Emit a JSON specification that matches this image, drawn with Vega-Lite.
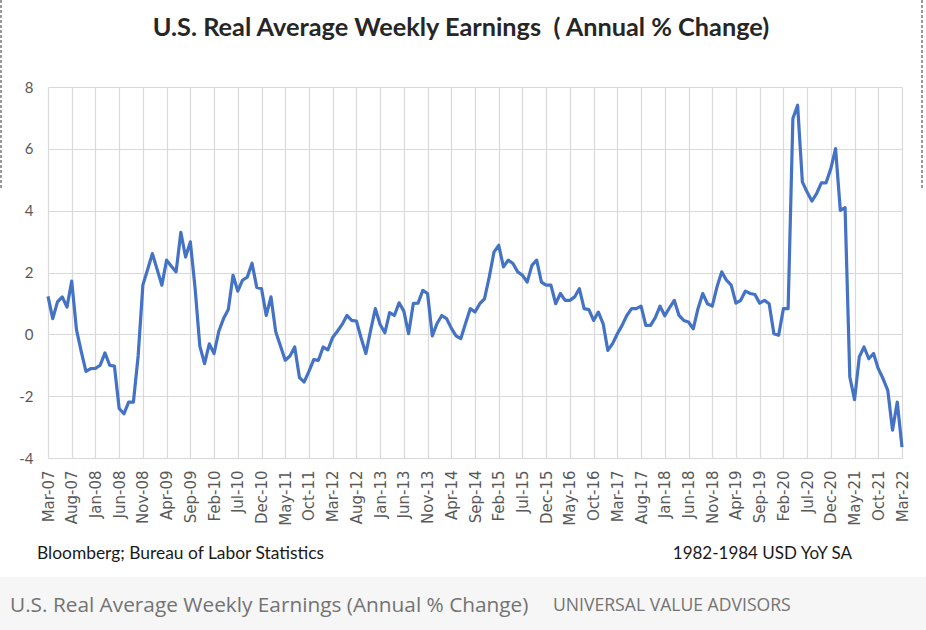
{
  "$schema": "https://vega.github.io/schema/vega-lite/v6.json",
  "width": 854,
  "height": 371,
  "autosize": {"type": "none"},
  "padding": {"left": 48, "top": 87, "right": 24, "bottom": 172},
  "background": "white",
  "config": {"view": {"stroke": null}},
  "datasets": {
    "earn": [
      {"m":"Mar-07","v":1.23},{"m":"Apr-07","v":0.51},{"m":"May-07","v":1.05},{"m":"Jun-07","v":1.21},{"m":"Jul-07","v":0.88},{"m":"Aug-07","v":1.72},{"m":"Sep-07","v":0.15},{"m":"Oct-07","v":-0.55},{"m":"Nov-07","v":-1.2},{"m":"Dec-07","v":-1.11},
      {"m":"Jan-08","v":-1.1},{"m":"Feb-08","v":-1.0},{"m":"Mar-08","v":-0.6},{"m":"Apr-08","v":-1.0},{"m":"May-08","v":-1.03},{"m":"Jun-08","v":-2.4},{"m":"Jul-08","v":-2.57},{"m":"Aug-08","v":-2.19},{"m":"Sep-08","v":-2.19},{"m":"Oct-08","v":-0.7},{"m":"Nov-08","v":1.6},{"m":"Dec-08","v":2.1},
      {"m":"Jan-09","v":2.61},{"m":"Feb-09","v":2.1},{"m":"Mar-09","v":1.59},{"m":"Apr-09","v":2.4},{"m":"May-09","v":2.2},{"m":"Jun-09","v":2.02},{"m":"Jul-09","v":3.3},{"m":"Aug-09","v":2.5},{"m":"Sep-09","v":2.99},{"m":"Oct-09","v":1.5},{"m":"Nov-09","v":-0.38},{"m":"Dec-09","v":-0.95},
      {"m":"Jan-10","v":-0.31},{"m":"Feb-10","v":-0.62},{"m":"Mar-10","v":0.1},{"m":"Apr-10","v":0.51},{"m":"May-10","v":0.8},{"m":"Jun-10","v":1.91},{"m":"Jul-10","v":1.4},{"m":"Aug-10","v":1.75},{"m":"Sep-10","v":1.85},{"m":"Oct-10","v":2.3},{"m":"Nov-10","v":1.52},{"m":"Dec-10","v":1.48},
      {"m":"Jan-11","v":0.61},{"m":"Feb-11","v":1.21},{"m":"Mar-11","v":0.08},{"m":"Apr-11","v":-0.38},{"m":"May-11","v":-0.84},{"m":"Jun-11","v":-0.7},{"m":"Jul-11","v":-0.41},{"m":"Aug-11","v":-1.4},{"m":"Sep-11","v":-1.54},{"m":"Oct-11","v":-1.2},{"m":"Nov-11","v":-0.82},{"m":"Dec-11","v":-0.84},
      {"m":"Jan-12","v":-0.41},{"m":"Feb-12","v":-0.5},{"m":"Mar-12","v":-0.1},{"m":"Apr-12","v":0.1},{"m":"May-12","v":0.32},{"m":"Jun-12","v":0.61},{"m":"Jul-12","v":0.45},{"m":"Aug-12","v":0.43},{"m":"Sep-12","v":-0.12},{"m":"Oct-12","v":-0.62},{"m":"Nov-12","v":0.13},{"m":"Dec-12","v":0.83},
      {"m":"Jan-13","v":0.32},{"m":"Feb-13","v":0.05},{"m":"Mar-13","v":0.7},{"m":"Apr-13","v":0.61},{"m":"May-13","v":1.02},{"m":"Jun-13","v":0.75},{"m":"Jul-13","v":0.02},{"m":"Aug-13","v":1.0},{"m":"Sep-13","v":1.01},{"m":"Oct-13","v":1.42},{"m":"Nov-13","v":1.32},{"m":"Dec-13","v":-0.05},
      {"m":"Jan-14","v":0.35},{"m":"Feb-14","v":0.61},{"m":"Mar-14","v":0.51},{"m":"Apr-14","v":0.2},{"m":"May-14","v":-0.05},{"m":"Jun-14","v":-0.14},{"m":"Jul-14","v":0.35},{"m":"Aug-14","v":0.83},{"m":"Sep-14","v":0.72},{"m":"Oct-14","v":0.99},{"m":"Nov-14","v":1.15},{"m":"Dec-14","v":1.85},
      {"m":"Jan-15","v":2.66},{"m":"Feb-15","v":2.88},{"m":"Mar-15","v":2.18},{"m":"Apr-15","v":2.4},{"m":"May-15","v":2.29},{"m":"Jun-15","v":2.02},{"m":"Jul-15","v":1.91},{"m":"Aug-15","v":1.69},{"m":"Sep-15","v":2.23},{"m":"Oct-15","v":2.4},{"m":"Nov-15","v":1.69},{"m":"Dec-15","v":1.59},
      {"m":"Jan-16","v":1.59},{"m":"Feb-16","v":0.99},{"m":"Mar-16","v":1.32},{"m":"Apr-16","v":1.1},{"m":"May-16","v":1.1},{"m":"Jun-16","v":1.21},{"m":"Jul-16","v":1.48},{"m":"Aug-16","v":0.83},{"m":"Sep-16","v":0.8},{"m":"Oct-16","v":0.45},{"m":"Nov-16","v":0.72},{"m":"Dec-16","v":0.35},
      {"m":"Jan-17","v":-0.52},{"m":"Feb-17","v":-0.3},{"m":"Mar-17","v":0.02},{"m":"Apr-17","v":0.29},{"m":"May-17","v":0.61},{"m":"Jun-17","v":0.83},{"m":"Jul-17","v":0.83},{"m":"Aug-17","v":0.91},{"m":"Sep-17","v":0.29},{"m":"Oct-17","v":0.29},{"m":"Nov-17","v":0.54},{"m":"Dec-17","v":0.91},
      {"m":"Jan-18","v":0.6},{"m":"Feb-18","v":0.86},{"m":"Mar-18","v":1.1},{"m":"Apr-18","v":0.61},{"m":"May-18","v":0.45},{"m":"Jun-18","v":0.4},{"m":"Jul-18","v":0.18},{"m":"Aug-18","v":0.83},{"m":"Sep-18","v":1.32},{"m":"Oct-18","v":0.99},{"m":"Nov-18","v":0.91},{"m":"Dec-18","v":1.53},
      {"m":"Jan-19","v":2.02},{"m":"Feb-19","v":1.75},{"m":"Mar-19","v":1.59},{"m":"Apr-19","v":1.01},{"m":"May-19","v":1.1},{"m":"Jun-19","v":1.4},{"m":"Jul-19","v":1.32},{"m":"Aug-19","v":1.29},{"m":"Sep-19","v":1.01},{"m":"Oct-19","v":1.1},{"m":"Nov-19","v":0.99},{"m":"Dec-19","v":0.02},
      {"m":"Jan-20","v":-0.03},{"m":"Feb-20","v":0.83},{"m":"Mar-20","v":0.83},{"m":"Apr-20","v":6.98},{"m":"May-20","v":7.41},{"m":"Jun-20","v":4.93},{"m":"Jul-20","v":4.6},{"m":"Aug-20","v":4.31},{"m":"Sep-20","v":4.55},{"m":"Oct-20","v":4.9},{"m":"Nov-20","v":4.9},{"m":"Dec-20","v":5.36},
      {"m":"Jan-21","v":6.01},{"m":"Feb-21","v":4.01},{"m":"Mar-21","v":4.1},{"m":"Apr-21","v":-1.38},{"m":"May-21","v":-2.11},{"m":"Jun-21","v":-0.73},{"m":"Jul-21","v":-0.41},{"m":"Aug-21","v":-0.79},{"m":"Sep-21","v":-0.62},{"m":"Oct-21","v":-1.11},{"m":"Nov-21","v":-1.43},{"m":"Dec-21","v":-1.81},
      {"m":"Jan-22","v":-3.1},{"m":"Feb-22","v":-2.19},{"m":"Mar-22","v":-3.65}
    ]
  },
  "layer": [
    {
      "data": {"values": [{}]},
      "mark": {"type": "rect", "color": "#f6f6f6"},
      "encoding": {"x": {"value": -48}, "x2": {"value": 878}, "y": {"value": 490}, "y2": {"value": 543}}
    },
    {
      "data": {"name": "earn"},
      "mark": {"type": "line", "color": "#4472C4", "strokeWidth": 3.2, "strokeJoin": "round"},
      "encoding": {
        "x": {
          "field": "m", "type": "ordinal", "sort": null,
          "scale": {"type": "point", "padding": 0},
          "axis": {
            "values": ["Mar-07","Aug-07","Jan-08","Jun-08","Nov-08","Apr-09","Sep-09","Feb-10","Jul-10","Dec-10","May-11","Oct-11","Mar-12","Aug-12","Jan-13","Jun-13","Nov-13","Apr-14","Sep-14","Feb-15","Jul-15","Dec-15","May-16","Oct-16","Mar-17","Aug-17","Jan-18","Jun-18","Nov-18","Apr-19","Sep-19","Feb-20","Jul-20","Dec-20","May-21","Oct-21","Mar-22"],
            "labelAngle": -90, "labelFont": "DejaVu Sans", "labelFontSize": 15, "labelColor": "#595959",
            "ticks": false, "domain": false, "grid": true, "gridColor": "#d9d9d9", "gridWidth": 1.2,
            "labelPadding": 12, "title": null
          }
        },
        "y": {
          "field": "v", "type": "quantitative",
          "scale": {"domain": [-4, 8], "nice": false, "zero": false},
          "axis": {
            "values": [-4, -2, 0, 2, 4, 6, 8], "ticks": false, "domain": false,
            "labelExpr": "datum.value + ''",
            "grid": true, "gridColor": "#d9d9d9", "gridWidth": 1.2,
            "labelFont": "Lato", "labelFontSize": 15, "labelColor": "#595959", "labelPadding": 15, "title": null
          }
        }
      }
    },
    {
      "data": {"values": [{}]},
      "mark": {"type": "text", "align": "center", "baseline": "alphabetic", "font": "Lato", "fontWeight": "bold", "fontSize": 25.3, "color": "#262626"},
      "encoding": {"x": {"value": 413}, "y": {"value": -51}, "text": {"value": "U.S. Real Average Weekly Earnings \u00a0( Annual % Change)"}}
    },
    {
      "data": {"values": [{}]},
      "mark": {"type": "text", "align": "left", "baseline": "alphabetic", "font": "Lato", "fontSize": 17.4, "color": "#1a1a1a"},
      "encoding": {"x": {"value": -11}, "y": {"value": 472}, "text": {"value": "Bloomberg; Bureau of Labor Statistics"}}
    },
    {
      "data": {"values": [{}]},
      "mark": {"type": "text", "align": "right", "baseline": "alphabetic", "font": "Lato", "fontSize": 17, "color": "#1a1a1a"},
      "encoding": {"x": {"value": 804}, "y": {"value": 472}, "text": {"value": "1982-1984 USD YoY SA"}}
    },
    {
      "data": {"values": [{}]},
      "mark": {"type": "text", "align": "left", "baseline": "alphabetic", "font": "Open Sans", "fontSize": 20.8, "color": "#737373"},
      "encoding": {"x": {"value": -38}, "y": {"value": 525}, "text": {"value": "U.S. Real Average Weekly Earnings (Annual % Change)"}}
    },
    {
      "data": {"values": [{}]},
      "mark": {"type": "text", "align": "left", "baseline": "alphabetic", "font": "Open Sans", "fontSize": 17.6, "color": "#737373"},
      "encoding": {"x": {"value": 505}, "y": {"value": 524}, "text": {"value": "UNIVERSAL VALUE ADVISORS"}}
    },
    {
      "data": {"values": [{}]},
      "mark": {"type": "rule", "color": "#333333", "strokeWidth": 1, "strokeDash": [3, 2]},
      "encoding": {"x": {"value": -47}, "y": {"value": -87}, "y2": {"value": 103}}
    },
    {
      "data": {"values": [{}]},
      "mark": {"type": "rule", "color": "#333333", "strokeWidth": 1, "strokeDash": [3, 2]},
      "encoding": {"x": {"value": 874}, "y": {"value": -87}, "y2": {"value": 103}}
    }
  ]
}
